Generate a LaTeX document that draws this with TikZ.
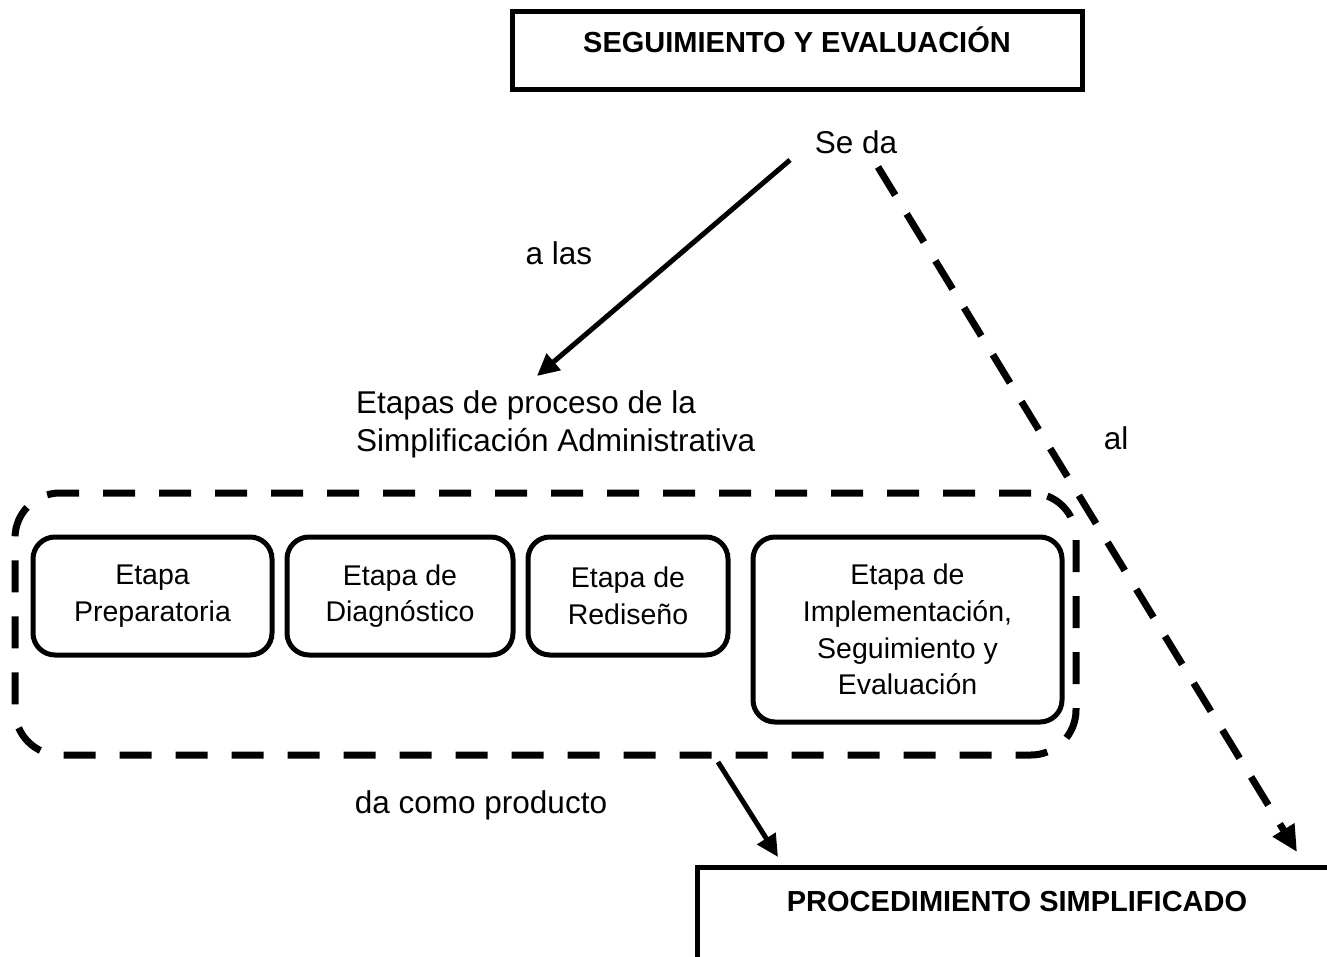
\documentclass[tikz,border=0pt]{standalone}
\usepackage{fontspec}
\setmainfont{Liberation Sans}
\usetikzlibrary{arrows.meta,positioning}
\newcommand{\fuenterot}{\fontsize{31.5}{38}\selectfont}
\newcommand{\fuenteetapa}{\fontsize{28.5}{36.7}\selectfont}
\newcommand{\fuentetitulo}{\fontsize{29}{35}\selectfont\bfseries}
\tikzset{
	basic/.style = {draw, line width=5pt, inner sep=0pt, outer sep=0pt},
	titulo/.style = {basic, rectangle, font=\fuentetitulo},
	etapa/.style = {basic, rectangle, rounded corners=22pt, align=center, font=\fuenteetapa},
	grupo/.style = {draw, rectangle, line width=7pt, outer sep=0pt, dash pattern=on 32pt off 24pt, rounded corners=45pt},
	rotulo/.style = {inner sep=0pt, font=\fuenterot},
	flecha/.style = {line width=5pt, -{Triangle[length=22pt,width=21pt]}},
	flechapunt/.style = {line width=7pt, dash pattern=on 33pt off 22pt, -{Triangle[length=26pt,width=24pt]}}
}

\begin{document}
\begin{tikzpicture}[x=1pt, y=-1pt]
	\useasboundingbox (0,0) rectangle (1327,957);

	% recuadro superior
	\node[titulo, minimum width=570pt, minimum height=78pt, text height=20.8pt, text depth=17.2pt] (seg) at (797,51) {SEGUIMIENTO Y EVALUACIÓN};

	% rotulos sueltos
	\node[rotulo] (seda) at (856,142) {Se da};
	\node[rotulo] (alas) at (559,253) {a las};
	\node[rotulo, align=left, anchor=west] (etapas) at (356,424) {Etapas de proceso de la\\Simplificación Administrativa};
	\node[rotulo] (al) at (1116,438) {al};
	\node[rotulo] (producto) at (481,805) {da como producto};

	% grupo de etapas
	\node[grupo, minimum width=1061pt, minimum height=262pt, anchor=north west] (grupo) at (15,493) {};
	\node[etapa, minimum width=239pt, minimum height=118pt, anchor=north west] (b1) at (33,537) {Etapa\\Preparatoria};
	\node[etapa, minimum width=226pt, minimum height=118pt, right=15pt of b1.north east, anchor=north west] (b2) {Etapa de\\Diagnóstico};
	\node[etapa, minimum width=200pt, minimum height=118pt, right=15pt of b2.north east, anchor=north west] (b3) {Etapa de\\Rediseño};
	\node[etapa, minimum width=309pt, minimum height=185pt, right=25pt of b3.north east, anchor=north west] (b4) {Etapa de\\Implementación,\\Seguimiento y\\Evaluación};

	% recuadro inferior
	\node[basic, rectangle, anchor=north west, minimum width=700pt, minimum height=140pt] (marco) at (697,867) {};
	\node[rotulo, font=\fuentetitulo] (proc) at (1017,902) {PROCEDIMIENTO SIMPLIFICADO};

	% flechas
	\coordinate (ini1) at (790,160);
	\coordinate (fin1) at (537,376);
	\coordinate (ini2) at (878,167);
	\coordinate (fin2) at (1297,852);
	\coordinate (ini3) at (718,762);
	\coordinate (fin3) at (778,857);
	\draw[flecha] (ini1) -- (fin1);
	\draw[flechapunt] (ini2) -- (fin2);
	\draw[flecha] (ini3) -- (fin3);
\end{tikzpicture}
\end{document}
